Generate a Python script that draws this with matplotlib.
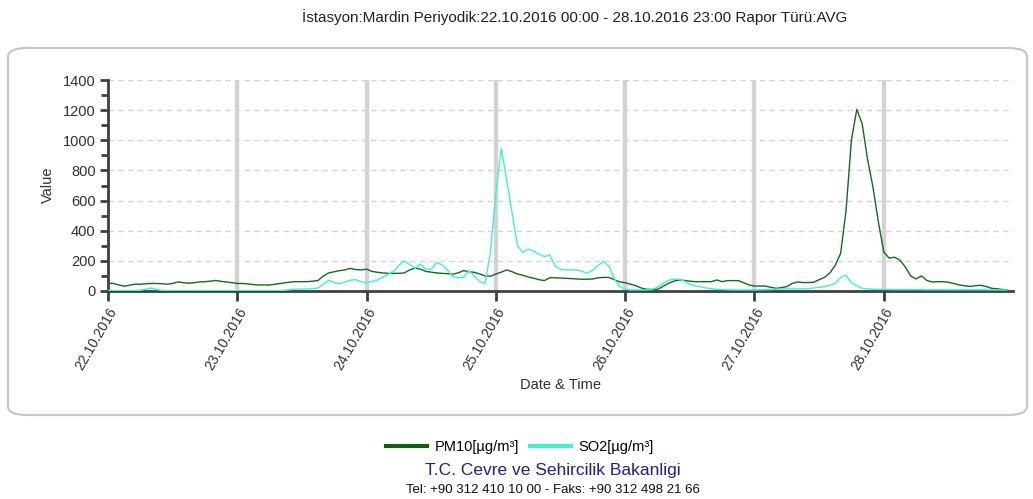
import matplotlib
matplotlib.use("Agg")
import matplotlib.pyplot as plt
import matplotlib.dates as mdates
from matplotlib.patches import FancyBboxPatch
from matplotlib.lines import Line2D
import pandas as pd

# Hourly averages, 22.10.2016 00:00 .. 28.10.2016 23:00
pm10 = [
    51, 50, 40, 32, 38, 45, 45, 48, 50, 50, 48, 45, 50, 60, 55, 52, 55, 60, 62, 65, 70, 64, 60, 55,
    50, 50, 47, 42, 40, 40, 40, 45, 50, 55, 60, 62, 62, 62, 65, 70, 100, 120, 128, 135, 140, 150, 142, 140,
    145, 130, 124, 120, 117, 117, 117, 120, 140, 152, 145, 130, 125, 120, 117, 115, 112, 120, 135, 128, 124, 113, 100, 98,
    113, 125, 140, 128, 113, 105, 93, 85, 75, 69, 88, 88, 86, 84, 82, 80, 78, 78, 80, 88, 90, 90, 75, 60,
    55, 45, 35, 20, 11, 11, 11, 30, 50, 65, 73, 70, 65, 62, 62, 62, 62, 73, 62, 69, 69, 69, 55, 40,
    33, 33, 33, 25, 18, 22, 29, 50, 60, 56, 56, 58, 75, 90, 120, 170, 250, 530, 1000, 1205, 1110, 873, 690, 460,
    260, 218, 224, 205, 160, 100, 80, 100, 70, 60, 62, 62, 58, 50, 40, 35, 30, 35, 38, 30, 18, 15, 10, 7,
]
so2 = [
    3, 3, 3, 3, 3, 3, 5, 12, 20, 10, 4, 3, 3, 3, 3, 3, 3, 3, 3, 3, 3, 3, 3, 3,
    3, 3, 3, 3, 3, 3, 3, 3, 3, 5, 10, 12, 13, 13, 15, 20, 45, 72, 55, 48, 60, 72, 75, 62,
    55, 62, 73, 90, 110, 130, 170, 200, 175, 150, 180, 145, 145, 190, 175, 140, 95, 88, 90, 135, 100, 62, 51, 260,
    646, 945, 740, 520, 300, 255, 278, 265, 245, 228, 240, 165, 145, 140, 140, 140, 130, 118, 140, 170, 195, 165, 80, 29,
    12, 7, 7, 7, 7, 10, 25, 50, 70, 78, 78, 65, 45, 33, 28, 20, 15, 11, 10, 8, 7, 7, 7, 7,
    7, 8, 9, 10, 12, 13, 14, 14, 14, 14, 15, 20, 24, 30, 38, 50, 90, 105, 55, 35, 18, 14, 12, 11,
    10, 10, 9, 9, 9, 9, 9, 9, 8, 8, 8, 8, 8, 8, 8, 8, 8, 8, 8, 8, 7, 7, 7, 7,
]
series_labels = ["PM10[µg/m³]", "SO2[µg/m³]"]
y_ticks = [0, 200, 400, 600, 800, 1000, 1200, 1400]

times = pd.date_range("2016-10-22 00:00", periods=len(pm10), freq="h")
day_ticks = pd.date_range("2016-10-22", "2016-10-28", freq="D")

NARROW = ["Liberation Sans Narrow", "Liberation Sans", "DejaVu Sans"]
SANS = ["Liberation Sans", "DejaVu Sans"]
AXIS_COL = "#404040"
PM_COL = "#15691a"
SO_COL = "#3cf3d0"

W, H = 1033, 499
fig = plt.figure(figsize=(W / 100, H / 100), dpi=100)
fig.patch.set_facecolor("white")

# rounded panel behind the chart
panel = FancyBboxPatch((8 / W, 1 - 415 / H), (1027 - 8) / W, (415 - 48) / H,
                       boxstyle="round,pad=0,rounding_size=0.018",
                       transform=fig.transFigure, facecolor="none",
                       edgecolor="#c8c8c8", linewidth=1.6, zorder=-1)
fig.patches.append(panel)

fig.text(575 / W, 1 - 17 / H,
         "İstasyon:Mardin Periyodik:22.10.2016 00:00 - 28.10.2016 23:00 Rapor Türü:AVG",
         ha="center", va="center", fontsize=11, family=NARROW, color="#202020")

ax = fig.add_axes([108 / W, 1 - 291 / H, (1013 - 108) / W, (291 - 80) / H])
ax.set_facecolor("none")

ax.set_xlim(pd.Timestamp("2016-10-22"), pd.Timestamp("2016-10-29"))
ax.set_ylim(0, 1400)

# horizontal dashed grid and daily vertical bands
for v in y_ticks[1:]:
    ax.axhline(v, color="#d4d4d4", lw=1.0, ls=(0, (4, 3)), zorder=1)
for d in day_ticks[1:]:
    ax.axvline(d, color="#d3d3d3", lw=3.2, zorder=1)

ax.plot(times, pm10, color=PM_COL, lw=1.0, zorder=3)
ax.plot(times, so2, color=SO_COL, lw=1.0, zorder=3)

for s in ("top", "right"):
    ax.spines[s].set_visible(False)
for s in ("left", "bottom"):
    ax.spines[s].set_color(AXIS_COL)
    ax.spines[s].set_linewidth(2.0)

ax.set_yticks(y_ticks)
ax.set_yticks(range(100, 1400, 200), minor=True)
ax.set_xticks(day_ticks)
ax.xaxis.set_major_formatter(mdates.DateFormatter("%d.%m.%Y"))
ax.tick_params(axis="y", which="major", length=6, width=2, color=AXIS_COL,
               labelsize=10.5, labelcolor="#303030", pad=3)
ax.tick_params(axis="y", which="minor", length=5, width=2, color=AXIS_COL)
ax.tick_params(axis="x", which="major", length=7, width=2, color=AXIS_COL,
               labelsize=10, labelcolor="#303030", pad=3)
ax.tick_params(axis="x", which="minor", length=0)
for lab in ax.get_yticklabels():
    lab.set_family(NARROW)
for lab in ax.get_xticklabels():
    lab.set_family(NARROW)
    lab.set_rotation(60)
    lab.set_ha("right")
    lab.set_va("top")
    lab.set_rotation_mode("anchor")

fig.text(560 / W, 1 - 385 / H, "Date & Time", ha="center", va="center",
         fontsize=10.5, family=NARROW, color="#303030")
fig.text(48 / W, 1 - 185 / H, "Value", ha="center", va="center", rotation=90,
         fontsize=10.5, family=NARROW, color="#303030")

handles = [Line2D([], [], color="#0b640b", lw=3), Line2D([], [], color=SO_COL, lw=3)]
fig.legend(handles, series_labels, loc="center", bbox_to_anchor=(520 / W, 1 - 447 / H),
           ncol=2, frameon=False, handlelength=2.8, handletextpad=0.5,
           columnspacing=0.8, prop={"family": NARROW, "size": 10.5})

fig.text(553 / W, 1 - 471 / H, "T.C. Cevre ve Sehircilik Bakanligi", ha="center",
         va="center", fontsize=12.5, family=SANS, color="#1f1f8f")
fig.text(553 / W, 1 - 490 / H, "Tel: +90 312 410 10 00 - Faks: +90 312 498 21 66",
         ha="center", va="center", fontsize=9.5, family=SANS, color="#101010")

fig.savefig("out.png", dpi=100)
